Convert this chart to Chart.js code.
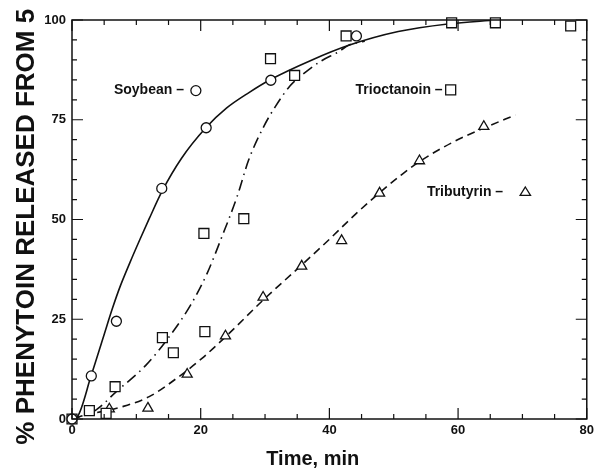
<!DOCTYPE html>
<html>
<head>
<meta charset="utf-8">
<script src="https://cdn.jsdelivr.net/npm/chart.js@4/dist/chart.umd.min.js"></script>
<style>
  body { margin: 0; background: #fff; }
  canvas { display: block; }
</style>
</head>
<body>
<canvas id="chart" width="598" height="474"></canvas>
<script>
// measured points (time in min, % released)
const soyT = [0, 3.0, 6.9, 13.95, 20.85, 30.9, 44.2];
const soyY = [0, 10.8, 24.5, 57.8, 73.0, 84.9, 96.0];
const trioT = [0, 2.7, 5.3, 6.7, 14.05, 15.75, 20.65, 20.5, 26.7, 30.85, 34.6, 42.6, 59.0, 65.8, 77.5];
const trioY = [0, 2.1, 1.4, 8.1, 20.4, 16.6, 21.9, 46.5, 50.2, 90.3, 86.1, 96.0, 99.3, 99.3, 98.5];
const tribT = [5.8, 11.8, 17.9, 23.85, 29.7, 35.7, 41.9, 47.8, 54.0, 64.0];
const tribY = [2.5, 2.7, 11.2, 20.8, 30.5, 38.3, 44.7, 56.6, 64.7, 73.3];

// fitted curves
const soyCurveT = [0, 0.8, 3, 5, 6.3, 7.5, 9, 10.5, 12, 14, 17, 20.8, 24, 27.5, 31, 37.3, 42.9, 50.7, 58.4, 65.9];
const soyCurveY = [0, 0.5, 11, 21.2, 27.8, 33.3, 39.2, 44.8, 50.2, 57.1, 65.3, 73, 77.9, 81.8, 85.2, 90, 93.6, 97.1, 99, 100];
const trioCurveT = [0, 3.75, 6.85, 11.5, 15.1, 18.45, 21, 23.3, 25.65, 27.45, 29.8, 31.6, 33.9, 36.5, 38.8, 41.4, 43, 45.5];
const trioCurveY = [0, 2.3, 6.8, 13.5, 20.6, 28.6, 36.5, 45.7, 55.7, 64.9, 73.3, 78.3, 83.5, 87.2, 89.8, 92.0, 93.7, 94.7];
const tribCurveT = [0, 2.2, 7.85, 12, 16.6, 20.2, 24, 29.7, 35.7, 40.3, 43.9, 47.8, 51.2, 54, 59.1, 64, 68.9];
const tribCurveY = [0, 1, 3.1, 5.6, 10.6, 15.2, 20.8, 29.8, 38.6, 45.5, 51.1, 56.7, 61.2, 64.5, 69.3, 72.9, 76.2];

const xTicks = [0, 20, 40, 60, 80];
const yTicks = [0, 25, 50, 75, 100];

const ink = "#111";
const fontFam = "'Liberation Sans', Arial, sans-serif";

function pts(xs, ys) {
  return xs.map((v, i) => ({ x: v, y: ys[i] }));
}

function markerSet(label, xs, ys, style, r) {
  return {
    label: label,
    data: pts(xs, ys),
    showLine: false,
    pointStyle: style,
    pointRadius: r,
    pointBorderWidth: 1.3,
    pointBorderColor: ink,
    pointBackgroundColor: "#fff",
    clip: false,
  };
}

function curveSet(label, xs, ys, dash) {
  return {
    label: label,
    data: pts(xs, ys),
    showLine: true,
    pointRadius: 0,
    borderColor: ink,
    borderWidth: 1.6,
    borderDash: dash,
    cubicInterpolationMode: "monotone",
    fill: false,
  };
}

// in-plot labels: text ends at tx, marker sits at mx (data units)
const notes = [
  { text: "Soybean –", tx: 17.4, mx: 19.25, y: 82.3, style: "circle" },
  { text: "Trioctanoin –", tx: 57.6, mx: 58.85, y: 82.5, style: "rect" },
  { text: "Tributyrin –", tx: 67.0, mx: 70.45, y: 56.9, style: "triangle" },
];

function drawMark(ctx, style, x, y) {
  ctx.beginPath();
  if (style === "circle") {
    ctx.arc(x, y, 5, 0, Math.PI * 2);
  } else if (style === "rect") {
    ctx.rect(x - 5, y - 5, 10, 10);
  } else {
    ctx.moveTo(x, y - 5);
    ctx.lineTo(x + 5.2, y + 3.5);
    ctx.lineTo(x - 5.2, y + 3.5);
    ctx.closePath();
  }
  ctx.fillStyle = "#fff";
  ctx.fill();
  ctx.stroke();
}

const framePlugin = {
  id: "frame",
  afterDatasetsDraw(chart) {
    const { ctx, chartArea: a, scales } = chart;
    const x = scales.x, y = scales.y;
    ctx.save();
    ctx.strokeStyle = ink;
    ctx.lineWidth = 1.5;
    ctx.strokeRect(a.left, a.top, a.right - a.left, a.bottom - a.top);

    // inward tick marks on all four sides
    ctx.lineWidth = 1.2;
    ctx.beginPath();
    x.ticks.forEach((t) => {
      const px = x.getPixelForValue(t.value);
      const len = xTicks.includes(t.value) ? 11 : 5;
      ctx.moveTo(px, a.bottom);
      ctx.lineTo(px, a.bottom - len);
      ctx.moveTo(px, a.top);
      ctx.lineTo(px, a.top + len);
    });
    y.ticks.forEach((t) => {
      const py = y.getPixelForValue(t.value);
      const len = yTicks.includes(t.value) ? 11 : 5;
      ctx.moveTo(a.left, py);
      ctx.lineTo(a.left + len, py);
      ctx.moveTo(a.right, py);
      ctx.lineTo(a.right - len, py);
    });
    ctx.stroke();

    // series labels
    ctx.font = "bold 14px " + fontFam;
    ctx.textAlign = "right";
    ctx.textBaseline = "middle";
    ctx.lineWidth = 1.3;
    notes.forEach((n) => {
      const py = y.getPixelForValue(n.y);
      ctx.fillStyle = ink;
      ctx.fillText(n.text, x.getPixelForValue(n.tx), py);
      drawMark(ctx, n.style, x.getPixelForValue(n.mx), py);
    });
    ctx.restore();
  },
};

new Chart(document.getElementById("chart"), {
  type: "scatter",
  data: {
    datasets: [
      markerSet("Soybean", soyT, soyY, "circle", 5),
      markerSet("Trioctanoin", trioT, trioY, "rect", 7),
      markerSet("Tributyrin", tribT, tribY, "triangle", 5.8),
      curveSet("Soybean fit", soyCurveT, soyCurveY, []),
      curveSet("Trioctanoin fit", trioCurveT, trioCurveY, [11, 5, 1.5, 5]),
      curveSet("Tributyrin fit", tribCurveT, tribCurveY, [8, 5]),
    ],
  },
  options: {
    responsive: false,
    animation: false,
    layout: { padding: { top: 20, right: 9, left: 0, bottom: 0 } },
    plugins: { legend: { display: false }, tooltip: { enabled: false } },
    scales: {
      x: {
        type: "linear",
        min: 0,
        max: 80,
        afterFit: (s) => { s.height = 55; },
        grid: { display: false, drawTicks: false },
        border: { display: false },
        ticks: {
          stepSize: 5,
          autoSkip: false,
          maxRotation: 0,
          padding: 4,
          color: ink,
          font: { family: fontFam, size: 13, weight: "bold" },
          callback: (v) => (xTicks.includes(v) ? v : ""),
        },
        title: {
          display: true,
          text: "Time, min      ",
          color: ink,
          font: { family: fontFam, size: 20, weight: "bold" },
          padding: { top: 0, bottom: 3 },
        },
      },
      y: {
        type: "linear",
        min: 0,
        max: 100,
        afterFit: (s) => { s.width = 72; },
        grid: { display: false, drawTicks: false },
        border: { display: false },
        ticks: {
          stepSize: 5,
          autoSkip: false,
          padding: 6,
          color: ink,
          font: { family: fontFam, size: 13, weight: "bold" },
          callback: (v) => (yTicks.includes(v) ? v : ""),
        },
        title: {
          display: true,
          text: "% PHENYTOIN RELEASED FROM 5  ",
          color: ink,
          font: { family: fontFam, size: 26, weight: "bold" },
          padding: { top: 11, bottom: 0 },
        },
      },
    },
  },
  plugins: [framePlugin],
});
</script>
</body>
</html>
